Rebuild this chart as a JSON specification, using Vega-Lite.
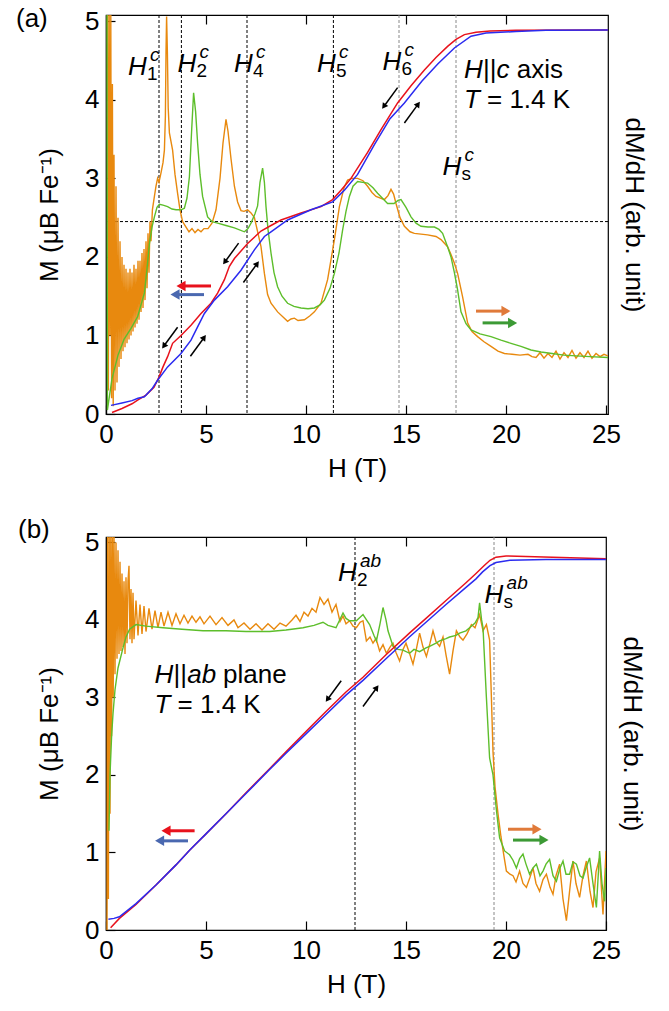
{
"$schema": "https://vega.github.io/schema/vega-lite/v6.json",
"padding": {"left": 15, "top": 5, "right": 5, "bottom": 5},
"spacing": 34,
"config": {
  "font": "Liberation Sans",
  "view": {"stroke": "#000", "strokeWidth": 1.2},
  "axis": {"grid": false, "domainColor": "#000", "domainWidth": 1.2, "tickColor": "#000", "tickWidth": 1.2, "tickSize": -9, "labelPadding": 16, "labelFontSize": 26, "labelColor": "#000", "labelFont": "Liberation Sans", "titleFont": "Liberation Sans", "titleFontSize": 26, "titleFontWeight": "normal", "titleColor": "#000", "labelFlush": false, "labelOverlap": false, "format": "d"},
  "text": {"font": "Liberation Sans", "color": "#000"}
},
"datasets": {
  "a_lines": [
    {"s":"Mdn","H":0.3,"M":0.02},{"s":"Mdn","H":0.8,"M":0.07},{"s":"Mdn","H":1.3,"M":0.13},{"s":"Mdn","H":1.6,"M":0.18},{"s":"Mdn","H":2.0,"M":0.24},{"s":"Mdn","H":2.4,"M":0.34},{"s":"Mdn","H":2.65,"M":0.47},{"s":"Mdn","H":2.85,"M":0.6},{"s":"Mdn","H":3.08,"M":0.73},{"s":"Mdn","H":3.33,"M":0.9},{"s":"Mdn","H":3.75,"M":1.0},{"s":"Mdn","H":4.25,"M":1.13},{"s":"Mdn","H":4.75,"M":1.28},{"s":"Mdn","H":5.25,"M":1.41},{"s":"Mdn","H":5.58,"M":1.54},{"s":"Mdn","H":5.92,"M":1.71},{"s":"Mdn","H":6.17,"M":1.88},{"s":"Mdn","H":6.42,"M":1.98},{"s":"Mdn","H":7.08,"M":2.17},{"s":"Mdn","H":7.75,"M":2.33},{"s":"Mdn","H":8.25,"M":2.4},{"s":"Mdn","H":8.75,"M":2.47},{"s":"Mdn","H":9.75,"M":2.56},{"s":"Mdn","H":10.75,"M":2.64},{"s":"Mdn","H":11.33,"M":2.73},{"s":"Mdn","H":11.75,"M":2.85},{"s":"Mdn","H":12.25,"M":3.0},{"s":"Mdn","H":13.08,"M":3.33},{"s":"Mdn","H":13.75,"M":3.62},{"s":"Mdn","H":14.58,"M":3.96},{"s":"Mdn","H":15.25,"M":4.18},{"s":"Mdn","H":15.92,"M":4.38},{"s":"Mdn","H":16.5,"M":4.54},{"s":"Mdn","H":17.08,"M":4.68},{"s":"Mdn","H":17.5,"M":4.77},{"s":"Mdn","H":17.92,"M":4.83},{"s":"Mdn","H":18.5,"M":4.86},{"s":"Mdn","H":19.2,"M":4.875},{"s":"Mdn","H":20.5,"M":4.885},{"s":"Mdn","H":25.1,"M":4.89},
    {"s":"Mup","H":0.25,"M":0.11},{"s":"Mup","H":0.8,"M":0.14},{"s":"Mup","H":1.3,"M":0.17},{"s":"Mup","H":1.6,"M":0.2},{"s":"Mup","H":1.92,"M":0.22},{"s":"Mup","H":2.3,"M":0.32},{"s":"Mup","H":2.58,"M":0.43},{"s":"Mup","H":3.08,"M":0.6},{"s":"Mup","H":3.75,"M":0.77},{"s":"Mup","H":4.25,"M":0.94},{"s":"Mup","H":4.58,"M":1.11},{"s":"Mup","H":4.92,"M":1.28},{"s":"Mup","H":5.42,"M":1.45},{"s":"Mup","H":6.08,"M":1.62},{"s":"Mup","H":6.75,"M":1.83},{"s":"Mup","H":7.42,"M":2.09},{"s":"Mup","H":7.92,"M":2.26},{"s":"Mup","H":8.25,"M":2.32},{"s":"Mup","H":9.08,"M":2.47},{"s":"Mup","H":10.25,"M":2.6},{"s":"Mup","H":11.33,"M":2.7},{"s":"Mup","H":11.92,"M":2.85},{"s":"Mup","H":12.58,"M":3.05},{"s":"Mup","H":13.42,"M":3.43},{"s":"Mup","H":14.2,"M":3.76},{"s":"Mup","H":14.92,"M":3.96},{"s":"Mup","H":15.8,"M":4.24},{"s":"Mup","H":16.6,"M":4.46},{"s":"Mup","H":17.42,"M":4.66},{"s":"Mup","H":18.25,"M":4.81},{"s":"Mup","H":19.0,"M":4.85},{"s":"Mup","H":20.5,"M":4.87},{"s":"Mup","H":22,"M":4.885},{"s":"Mup","H":25.1,"M":4.89},
    {"s":"dM1","H":0.08,"M":5.1},{"s":"dM1","H":0.12,"M":0.3},{"s":"dM1","H":0.16,"M":5.1},{"s":"dM1","H":0.2,"M":1.0},{"s":"dM1","H":0.24,"M":5.1},{"s":"dM1","H":0.28,"M":0.2},{"s":"dM1","H":0.32,"M":4.2},{"s":"dM1","H":0.36,"M":0.1},{"s":"dM1","H":0.4,"M":3.3},{"s":"dM1","H":0.45,"M":0.3},{"s":"dM1","H":0.5,"M":2.9},{"s":"dM1","H":0.55,"M":0.4},{"s":"dM1","H":0.6,"M":2.5},{"s":"dM1","H":0.65,"M":0.6},{"s":"dM1","H":0.7,"M":2.2},{"s":"dM1","H":0.75,"M":0.7},{"s":"dM1","H":0.8,"M":2.0},{"s":"dM1","H":0.85,"M":0.8},{"s":"dM1","H":0.9,"M":1.9},{"s":"dM1","H":0.95,"M":0.85},{"s":"dM1","H":1.0,"M":1.85},{"s":"dM1","H":1.05,"M":0.9},{"s":"dM1","H":1.1,"M":1.8},{"s":"dM1","H":1.15,"M":0.95},{"s":"dM1","H":1.2,"M":1.85},{"s":"dM1","H":1.25,"M":1.0},{"s":"dM1","H":1.3,"M":1.8},{"s":"dM1","H":1.35,"M":1.05},{"s":"dM1","H":1.4,"M":1.9},{"s":"dM1","H":1.45,"M":1.1},{"s":"dM1","H":1.5,"M":1.85},{"s":"dM1","H":1.55,"M":1.15},{"s":"dM1","H":1.6,"M":1.95},{"s":"dM1","H":1.65,"M":1.2},{"s":"dM1","H":1.7,"M":1.95},{"s":"dM1","H":1.75,"M":1.3},{"s":"dM1","H":1.8,"M":2.05},{"s":"dM1","H":1.85,"M":1.35},{"s":"dM1","H":1.9,"M":2.1},{"s":"dM1","H":1.95,"M":1.45},{"s":"dM1","H":2.0,"M":2.2},{"s":"dM1","H":2.05,"M":1.6},{"s":"dM1","H":2.1,"M":2.3},{"s":"dM1","H":2.15,"M":1.8},{"s":"dM1","H":2.2,"M":2.45},{"s":"dM1","H":2.25,"M":2.2},{"s":"dM1","H":2.32,"M":2.6},{"s":"dM1","H":2.42,"M":2.77},{"s":"dM1","H":2.5,"M":2.9},{"s":"dM1","H":2.58,"M":3.0},{"s":"dM1","H":2.65,"M":2.95},{"s":"dM1","H":2.75,"M":3.07},{"s":"dM1","H":2.85,"M":3.2},{"s":"dM1","H":2.92,"M":3.36},{"s":"dM1","H":2.97,"M":3.8},{"s":"dM1","H":3.0,"M":4.6},{"s":"dM1","H":3.03,"M":5.06},{"s":"dM1","H":3.07,"M":4.6},{"s":"dM1","H":3.11,"M":3.9},{"s":"dM1","H":3.17,"M":3.58},{"s":"dM1","H":3.33,"M":3.36},{"s":"dM1","H":3.45,"M":3.05},{"s":"dM1","H":3.58,"M":2.81},{"s":"dM1","H":3.7,"M":2.6},{"s":"dM1","H":3.83,"M":2.45},{"s":"dM1","H":4.0,"M":2.38},{"s":"dM1","H":4.15,"M":2.32},{"s":"dM1","H":4.3,"M":2.36},{"s":"dM1","H":4.45,"M":2.31},{"s":"dM1","H":4.6,"M":2.35},{"s":"dM1","H":4.75,"M":2.32},{"s":"dM1","H":4.9,"M":2.36},{"s":"dM1","H":5.1,"M":2.36},{"s":"dM1","H":5.3,"M":2.43},{"s":"dM1","H":5.5,"M":2.6},{"s":"dM1","H":5.7,"M":3.0},{"s":"dM1","H":5.85,"M":3.45},{"s":"dM1","H":6.0,"M":3.75},{"s":"dM1","H":6.1,"M":3.6},{"s":"dM1","H":6.25,"M":3.25},{"s":"dM1","H":6.42,"M":2.9},{"s":"dM1","H":6.58,"M":2.7},{"s":"dM1","H":6.75,"M":2.59},{"s":"dM1","H":6.9,"M":2.58},{"s":"dM1","H":7.08,"M":2.6},{"s":"dM1","H":7.25,"M":2.56},{"s":"dM1","H":7.42,"M":2.5},{"s":"dM1","H":7.6,"M":2.3},{"s":"dM1","H":7.75,"M":2.13},{"s":"dM1","H":7.92,"M":1.79},{"s":"dM1","H":8.08,"M":1.52},{"s":"dM1","H":8.25,"M":1.41},{"s":"dM1","H":8.58,"M":1.3},{"s":"dM1","H":9.08,"M":1.18},{"s":"dM1","H":9.25,"M":1.21},{"s":"dM1","H":9.42,"M":1.22},{"s":"dM1","H":9.6,"M":1.19},{"s":"dM1","H":9.92,"M":1.2},{"s":"dM1","H":10.2,"M":1.25},{"s":"dM1","H":10.42,"M":1.3},{"s":"dM1","H":10.75,"M":1.41},{"s":"dM1","H":11.08,"M":1.71},{"s":"dM1","H":11.42,"M":2.22},{"s":"dM1","H":11.67,"M":2.64},{"s":"dM1","H":11.9,"M":2.88},{"s":"dM1","H":12.08,"M":2.98},{"s":"dM1","H":12.3,"M":3.0},{"s":"dM1","H":12.58,"M":3.0},{"s":"dM1","H":12.85,"M":2.97},{"s":"dM1","H":13.08,"M":2.9},{"s":"dM1","H":13.3,"M":2.82},{"s":"dM1","H":13.5,"M":2.77},{"s":"dM1","H":13.92,"M":2.73},{"s":"dM1","H":14.1,"M":2.78},{"s":"dM1","H":14.25,"M":2.86},{"s":"dM1","H":14.38,"M":2.8},{"s":"dM1","H":14.5,"M":2.68},{"s":"dM1","H":14.7,"M":2.5},{"s":"dM1","H":14.92,"M":2.39},{"s":"dM1","H":15.2,"M":2.32},{"s":"dM1","H":15.42,"M":2.3},{"s":"dM1","H":16.08,"M":2.28},{"s":"dM1","H":16.5,"M":2.26},{"s":"dM1","H":16.75,"M":2.22},{"s":"dM1","H":17.08,"M":2.13},{"s":"dM1","H":17.25,"M":2.03},{"s":"dM1","H":17.42,"M":1.92},{"s":"dM1","H":17.58,"M":1.79},{"s":"dM1","H":17.83,"M":1.49},{"s":"dM1","H":18.08,"M":1.16},{"s":"dM1","H":18.3,"M":1.05},{"s":"dM1","H":18.58,"M":0.985},{"s":"dM1","H":18.9,"M":0.92},{"s":"dM1","H":19.25,"M":0.86},{"s":"dM1","H":19.6,"M":0.8},{"s":"dM1","H":19.92,"M":0.77},{"s":"dM1","H":20.3,"M":0.76},{"s":"dM1","H":20.7,"M":0.75},{"s":"dM1","H":21.1,"M":0.76},{"s":"dM1","H":21.3,"M":0.73},{"s":"dM1","H":21.5,"M":0.72},{"s":"dM1","H":21.7,"M":0.78},{"s":"dM1","H":21.9,"M":0.71},{"s":"dM1","H":22.1,"M":0.77},{"s":"dM1","H":22.3,"M":0.72},{"s":"dM1","H":22.5,"M":0.8},{"s":"dM1","H":22.7,"M":0.7},{"s":"dM1","H":22.9,"M":0.78},{"s":"dM1","H":23.1,"M":0.72},{"s":"dM1","H":23.3,"M":0.81},{"s":"dM1","H":23.5,"M":0.71},{"s":"dM1","H":23.7,"M":0.78},{"s":"dM1","H":23.9,"M":0.72},{"s":"dM1","H":24.1,"M":0.8},{"s":"dM1","H":24.3,"M":0.71},{"s":"dM1","H":24.5,"M":0.77},{"s":"dM1","H":24.7,"M":0.73},{"s":"dM1","H":24.9,"M":0.76},{"s":"dM1","H":25.1,"M":0.74},
    {"s":"dM2","H":0.05,"M":5.1},{"s":"dM2","H":0.07,"M":0.05},{"s":"dM2","H":0.3,"M":0.45},{"s":"dM2","H":0.6,"M":0.75},{"s":"dM2","H":0.9,"M":0.95},{"s":"dM2","H":1.25,"M":1.09},{"s":"dM2","H":1.58,"M":1.24},{"s":"dM2","H":1.92,"M":1.54},{"s":"dM2","H":2.05,"M":1.85},{"s":"dM2","H":2.17,"M":2.17},{"s":"dM2","H":2.3,"M":2.38},{"s":"dM2","H":2.42,"M":2.51},{"s":"dM2","H":2.55,"M":2.63},{"s":"dM2","H":2.67,"M":2.67},{"s":"dM2","H":2.85,"M":2.66},{"s":"dM2","H":3.08,"M":2.64},{"s":"dM2","H":3.3,"M":2.61},{"s":"dM2","H":3.5,"M":2.6},{"s":"dM2","H":3.75,"M":2.6},{"s":"dM2","H":3.92,"M":2.62},{"s":"dM2","H":4.05,"M":2.75},{"s":"dM2","H":4.17,"M":3.02},{"s":"dM2","H":4.28,"M":3.6},{"s":"dM2","H":4.38,"M":4.09},{"s":"dM2","H":4.48,"M":3.85},{"s":"dM2","H":4.58,"M":3.45},{"s":"dM2","H":4.7,"M":3.05},{"s":"dM2","H":4.83,"M":2.77},{"s":"dM2","H":5.08,"M":2.51},{"s":"dM2","H":5.3,"M":2.45},{"s":"dM2","H":5.58,"M":2.43},{"s":"dM2","H":6.0,"M":2.4},{"s":"dM2","H":6.42,"M":2.37},{"s":"dM2","H":6.92,"M":2.32},{"s":"dM2","H":7.1,"M":2.36},{"s":"dM2","H":7.25,"M":2.43},{"s":"dM2","H":7.45,"M":2.55},{"s":"dM2","H":7.58,"M":2.65},{"s":"dM2","H":7.7,"M":2.95},{"s":"dM2","H":7.83,"M":3.13},{"s":"dM2","H":7.92,"M":2.95},{"s":"dM2","H":8.0,"M":2.64},{"s":"dM2","H":8.1,"M":2.35},{"s":"dM2","H":8.25,"M":2.05},{"s":"dM2","H":8.4,"M":1.8},{"s":"dM2","H":8.58,"M":1.62},{"s":"dM2","H":8.8,"M":1.5},{"s":"dM2","H":9.08,"M":1.41},{"s":"dM2","H":9.4,"M":1.37},{"s":"dM2","H":9.75,"M":1.35},{"s":"dM2","H":10.1,"M":1.34},{"s":"dM2","H":10.42,"M":1.35},{"s":"dM2","H":10.7,"M":1.39},{"s":"dM2","H":10.92,"M":1.45},{"s":"dM2","H":11.2,"M":1.6},{"s":"dM2","H":11.42,"M":1.79},{"s":"dM2","H":11.65,"M":2.05},{"s":"dM2","H":11.83,"M":2.34},{"s":"dM2","H":12.0,"M":2.58},{"s":"dM2","H":12.17,"M":2.77},{"s":"dM2","H":12.35,"M":2.9},{"s":"dM2","H":12.58,"M":2.96},{"s":"dM2","H":13.08,"M":2.94},{"s":"dM2","H":13.35,"M":2.88},{"s":"dM2","H":13.58,"M":2.81},{"s":"dM2","H":13.85,"M":2.74},{"s":"dM2","H":14.08,"M":2.68},{"s":"dM2","H":14.4,"M":2.68},{"s":"dM2","H":14.6,"M":2.72},{"s":"dM2","H":14.75,"M":2.73},{"s":"dM2","H":15.0,"M":2.63},{"s":"dM2","H":15.25,"M":2.51},{"s":"dM2","H":15.5,"M":2.43},{"s":"dM2","H":15.75,"M":2.39},{"s":"dM2","H":16.1,"M":2.38},{"s":"dM2","H":16.42,"M":2.38},{"s":"dM2","H":16.65,"M":2.35},{"s":"dM2","H":16.83,"M":2.3},{"s":"dM2","H":17.05,"M":2.15},{"s":"dM2","H":17.25,"M":2.0},{"s":"dM2","H":17.42,"M":1.8},{"s":"dM2","H":17.58,"M":1.58},{"s":"dM2","H":17.75,"M":1.3},{"s":"dM2","H":18.0,"M":1.15},{"s":"dM2","H":18.25,"M":1.07},{"s":"dM2","H":18.7,"M":1.02},{"s":"dM2","H":19.25,"M":0.985},{"s":"dM2","H":19.75,"M":0.94},{"s":"dM2","H":20.25,"M":0.9},{"s":"dM2","H":20.75,"M":0.86},{"s":"dM2","H":21.25,"M":0.815},{"s":"dM2","H":21.75,"M":0.79},{"s":"dM2","H":22.3,"M":0.77},{"s":"dM2","H":22.9,"M":0.75},{"s":"dM2","H":23.5,"M":0.74},{"s":"dM2","H":24.2,"M":0.73},{"s":"dM2","H":25.1,"M":0.72}
  ],
  "b_lines": [
    {"s":"Mdn","H":0.23,"M":0.03},{"s":"Mdn","H":0.67,"M":0.15},{"s":"Mdn","H":1.5,"M":0.33},{"s":"Mdn","H":2.5,"M":0.58},{"s":"Mdn","H":3.5,"M":0.84},{"s":"Mdn","H":4.18,"M":1.03},{"s":"Mdn","H":5.0,"M":1.24},{"s":"Mdn","H":6.0,"M":1.5},{"s":"Mdn","H":7.0,"M":1.77},{"s":"Mdn","H":8.18,"M":2.08},{"s":"Mdn","H":9.0,"M":2.3},{"s":"Mdn","H":10.0,"M":2.56},{"s":"Mdn","H":11.0,"M":2.82},{"s":"Mdn","H":12.0,"M":3.07},{"s":"Mdn","H":12.85,"M":3.26},{"s":"Mdn","H":14.0,"M":3.55},{"s":"Mdn","H":15.17,"M":3.83},{"s":"Mdn","H":16.0,"M":4.02},{"s":"Mdn","H":17.0,"M":4.25},{"s":"Mdn","H":18.0,"M":4.48},{"s":"Mdn","H":18.5,"M":4.6},{"s":"Mdn","H":18.9,"M":4.7},{"s":"Mdn","H":19.2,"M":4.77},{"s":"Mdn","H":19.5,"M":4.81},{"s":"Mdn","H":20.0,"M":4.825},{"s":"Mdn","H":21.0,"M":4.82},{"s":"Mdn","H":25.0,"M":4.79},
    {"s":"Mup","H":0.12,"M":0.14},{"s":"Mup","H":0.4,"M":0.15},{"s":"Mup","H":0.67,"M":0.17},{"s":"Mup","H":1.5,"M":0.34},{"s":"Mup","H":2.5,"M":0.58},{"s":"Mup","H":3.5,"M":0.84},{"s":"Mup","H":4.18,"M":1.03},{"s":"Mup","H":5.0,"M":1.24},{"s":"Mup","H":6.0,"M":1.5},{"s":"Mup","H":7.0,"M":1.76},{"s":"Mup","H":8.18,"M":2.07},{"s":"Mup","H":9.0,"M":2.28},{"s":"Mup","H":10.0,"M":2.53},{"s":"Mup","H":11.0,"M":2.78},{"s":"Mup","H":12.0,"M":3.03},{"s":"Mup","H":12.85,"M":3.22},{"s":"Mup","H":14.0,"M":3.5},{"s":"Mup","H":15.17,"M":3.78},{"s":"Mup","H":16.0,"M":3.97},{"s":"Mup","H":17.0,"M":4.2},{"s":"Mup","H":18.0,"M":4.42},{"s":"Mup","H":18.5,"M":4.53},{"s":"Mup","H":18.83,"M":4.62},{"s":"Mup","H":19.2,"M":4.7},{"s":"Mup","H":19.5,"M":4.74},{"s":"Mup","H":20.2,"M":4.77},{"s":"Mup","H":22.0,"M":4.78},{"s":"Mup","H":25.0,"M":4.78},
    {"s":"dM1","H":0.05,"M":0.0},{"s":"dM1","H":0.08,"M":5.1},{"s":"dM1","H":0.12,"M":0.4},{"s":"dM1","H":0.16,"M":5.1},{"s":"dM1","H":0.2,"M":1.5},{"s":"dM1","H":0.24,"M":5.1},{"s":"dM1","H":0.28,"M":2.5},{"s":"dM1","H":0.32,"M":5.1},{"s":"dM1","H":0.36,"M":3.0},{"s":"dM1","H":0.4,"M":5.1},{"s":"dM1","H":0.45,"M":3.3},{"s":"dM1","H":0.5,"M":5.0},{"s":"dM1","H":0.55,"M":3.5},{"s":"dM1","H":0.6,"M":4.9},{"s":"dM1","H":0.65,"M":3.56},{"s":"dM1","H":0.7,"M":4.75},{"s":"dM1","H":0.75,"M":3.6},{"s":"dM1","H":0.8,"M":4.6},{"s":"dM1","H":0.85,"M":3.65},{"s":"dM1","H":0.9,"M":4.5},{"s":"dM1","H":0.95,"M":3.56},{"s":"dM1","H":1.0,"M":4.55},{"s":"dM1","H":1.05,"M":3.7},{"s":"dM1","H":1.1,"M":4.5},{"s":"dM1","H":1.15,"M":4.7},{"s":"dM1","H":1.2,"M":3.75},{"s":"dM1","H":1.25,"M":4.4},{"s":"dM1","H":1.3,"M":3.7},{"s":"dM1","H":1.35,"M":4.35},{"s":"dM1","H":1.4,"M":3.75},{"s":"dM1","H":1.5,"M":4.25},{"s":"dM1","H":1.6,"M":3.8},{"s":"dM1","H":1.7,"M":4.2},{"s":"dM1","H":1.8,"M":3.82},{"s":"dM1","H":1.9,"M":4.18},{"s":"dM1","H":2.0,"M":3.85},{"s":"dM1","H":2.15,"M":4.15},{"s":"dM1","H":2.3,"M":3.88},{"s":"dM1","H":2.45,"M":4.12},{"s":"dM1","H":2.6,"M":3.9},{"s":"dM1","H":2.75,"M":4.1},{"s":"dM1","H":2.9,"M":3.92},{"s":"dM1","H":3.1,"M":4.1},{"s":"dM1","H":3.3,"M":3.93},{"s":"dM1","H":3.5,"M":4.08},{"s":"dM1","H":3.7,"M":3.95},{"s":"dM1","H":3.9,"M":4.06},{"s":"dM1","H":4.1,"M":3.96},{"s":"dM1","H":4.3,"M":4.05},{"s":"dM1","H":4.5,"M":3.97},{"s":"dM1","H":4.7,"M":4.04},{"s":"dM1","H":4.9,"M":3.95},{"s":"dM1","H":5.2,"M":4.05},{"s":"dM1","H":5.5,"M":3.94},{"s":"dM1","H":5.8,"M":4.03},{"s":"dM1","H":6.1,"M":3.93},{"s":"dM1","H":6.4,"M":4.0},{"s":"dM1","H":6.6,"M":3.9},{"s":"dM1","H":6.9,"M":3.96},{"s":"dM1","H":7.2,"M":3.88},{"s":"dM1","H":7.5,"M":3.95},{"s":"dM1","H":7.8,"M":3.87},{"s":"dM1","H":8.1,"M":3.95},{"s":"dM1","H":8.4,"M":3.88},{"s":"dM1","H":8.7,"M":3.96},{"s":"dM1","H":9.0,"M":3.92},{"s":"dM1","H":9.3,"M":4.0},{"s":"dM1","H":9.5,"M":4.06},{"s":"dM1","H":9.7,"M":3.98},{"s":"dM1","H":9.9,"M":4.1},{"s":"dM1","H":10.1,"M":4.05},{"s":"dM1","H":10.3,"M":4.15},{"s":"dM1","H":10.5,"M":4.1},{"s":"dM1","H":10.7,"M":4.29},{"s":"dM1","H":10.9,"M":4.2},{"s":"dM1","H":11.1,"M":4.27},{"s":"dM1","H":11.3,"M":4.1},{"s":"dM1","H":11.5,"M":4.2},{"s":"dM1","H":11.7,"M":3.98},{"s":"dM1","H":11.85,"M":4.05},{"s":"dM1","H":12.0,"M":3.95},{"s":"dM1","H":12.18,"M":3.99},{"s":"dM1","H":12.35,"M":3.92},{"s":"dM1","H":12.52,"M":3.9},{"s":"dM1","H":12.7,"M":3.97},{"s":"dM1","H":12.85,"M":3.99},{"s":"dM1","H":13.02,"M":3.73},{"s":"dM1","H":13.2,"M":3.78},{"s":"dM1","H":13.35,"M":3.7},{"s":"dM1","H":13.5,"M":3.76},{"s":"dM1","H":13.68,"M":3.6},{"s":"dM1","H":13.85,"M":3.68},{"s":"dM1","H":14.02,"M":3.57},{"s":"dM1","H":14.2,"M":3.65},{"s":"dM1","H":14.35,"M":3.7},{"s":"dM1","H":14.5,"M":3.58},{"s":"dM1","H":14.68,"M":3.47},{"s":"dM1","H":14.85,"M":3.62},{"s":"dM1","H":15.0,"M":3.7},{"s":"dM1","H":15.2,"M":3.55},{"s":"dM1","H":15.35,"M":3.43},{"s":"dM1","H":15.5,"M":3.6},{"s":"dM1","H":15.68,"M":3.83},{"s":"dM1","H":15.85,"M":3.65},{"s":"dM1","H":16.02,"M":3.53},{"s":"dM1","H":16.2,"M":3.7},{"s":"dM1","H":16.35,"M":3.86},{"s":"dM1","H":16.5,"M":3.72},{"s":"dM1","H":16.68,"M":3.66},{"s":"dM1","H":16.85,"M":3.78},{"s":"dM1","H":17.0,"M":3.55},{"s":"dM1","H":17.18,"M":3.3},{"s":"dM1","H":17.35,"M":3.6},{"s":"dM1","H":17.52,"M":3.86},{"s":"dM1","H":17.7,"M":3.78},{"s":"dM1","H":17.85,"M":3.74},{"s":"dM1","H":18.05,"M":3.82},{"s":"dM1","H":18.27,"M":3.94},{"s":"dM1","H":18.45,"M":3.9},{"s":"dM1","H":18.68,"M":4.07},{"s":"dM1","H":18.85,"M":3.86},{"s":"dM1","H":19.02,"M":3.94},{"s":"dM1","H":19.18,"M":3.74},{"s":"dM1","H":19.27,"M":3.0},{"s":"dM1","H":19.35,"M":2.3},{"s":"dM1","H":19.45,"M":1.85},{"s":"dM1","H":19.6,"M":1.5},{"s":"dM1","H":19.75,"M":1.2},{"s":"dM1","H":19.9,"M":0.95},{"s":"dM1","H":20.02,"M":0.76},{"s":"dM1","H":20.2,"M":0.72},{"s":"dM1","H":20.35,"M":0.7},{"s":"dM1","H":20.5,"M":0.62},{"s":"dM1","H":20.68,"M":0.76},{"s":"dM1","H":20.85,"M":0.6},{"s":"dM1","H":21.02,"M":0.55},{"s":"dM1","H":21.2,"M":0.68},{"s":"dM1","H":21.35,"M":0.8},{"s":"dM1","H":21.5,"M":0.6},{"s":"dM1","H":21.68,"M":0.5},{"s":"dM1","H":21.85,"M":0.65},{"s":"dM1","H":22.02,"M":0.72},{"s":"dM1","H":22.2,"M":0.55},{"s":"dM1","H":22.35,"M":0.46},{"s":"dM1","H":22.5,"M":0.7},{"s":"dM1","H":22.68,"M":0.85},{"s":"dM1","H":22.85,"M":0.4},{"s":"dM1","H":23.02,"M":0.12},{"s":"dM1","H":23.2,"M":0.55},{"s":"dM1","H":23.35,"M":0.89},{"s":"dM1","H":23.5,"M":0.6},{"s":"dM1","H":23.68,"M":0.42},{"s":"dM1","H":23.85,"M":0.7},{"s":"dM1","H":24.02,"M":0.89},{"s":"dM1","H":24.2,"M":0.5},{"s":"dM1","H":24.35,"M":0.29},{"s":"dM1","H":24.5,"M":0.75},{"s":"dM1","H":24.68,"M":0.93},{"s":"dM1","H":24.85,"M":0.2},{"s":"dM1","H":25.0,"M":1.02},
    {"s":"dM2","H":0.15,"M":1.28},{"s":"dM2","H":0.2,"M":2.0},{"s":"dM2","H":0.28,"M":2.5},{"s":"dM2","H":0.35,"M":2.79},{"s":"dM2","H":0.45,"M":3.1},{"s":"dM2","H":0.6,"M":3.38},{"s":"dM2","H":0.85,"M":3.64},{"s":"dM2","H":1.0,"M":3.78},{"s":"dM2","H":1.18,"M":3.88},{"s":"dM2","H":1.5,"M":3.94},{"s":"dM2","H":2.0,"M":3.92},{"s":"dM2","H":2.85,"M":3.9},{"s":"dM2","H":3.8,"M":3.88},{"s":"dM2","H":4.85,"M":3.86},{"s":"dM2","H":6.0,"M":3.86},{"s":"dM2","H":7.0,"M":3.85},{"s":"dM2","H":8.18,"M":3.85},{"s":"dM2","H":9.0,"M":3.87},{"s":"dM2","H":9.85,"M":3.9},{"s":"dM2","H":10.4,"M":3.93},{"s":"dM2","H":10.85,"M":3.97},{"s":"dM2","H":11.1,"M":3.93},{"s":"dM2","H":11.5,"M":3.9},{"s":"dM2","H":11.85,"M":4.09},{"s":"dM2","H":12.0,"M":4.02},{"s":"dM2","H":12.18,"M":3.99},{"s":"dM2","H":12.52,"M":3.99},{"s":"dM2","H":12.85,"M":4.07},{"s":"dM2","H":13.18,"M":3.94},{"s":"dM2","H":13.4,"M":3.8},{"s":"dM2","H":13.52,"M":3.73},{"s":"dM2","H":13.7,"M":3.95},{"s":"dM2","H":13.85,"M":4.16},{"s":"dM2","H":14.0,"M":4.0},{"s":"dM2","H":14.1,"M":3.86},{"s":"dM2","H":14.35,"M":3.66},{"s":"dM2","H":14.6,"M":3.62},{"s":"dM2","H":14.85,"M":3.61},{"s":"dM2","H":15.18,"M":3.57},{"s":"dM2","H":15.4,"M":3.62},{"s":"dM2","H":15.68,"M":3.59},{"s":"dM2","H":16.0,"M":3.64},{"s":"dM2","H":16.18,"M":3.66},{"s":"dM2","H":16.5,"M":3.7},{"s":"dM2","H":16.68,"M":3.73},{"s":"dM2","H":17.0,"M":3.76},{"s":"dM2","H":17.18,"M":3.78},{"s":"dM2","H":17.5,"M":3.8},{"s":"dM2","H":17.68,"M":3.83},{"s":"dM2","H":18.0,"M":3.86},{"s":"dM2","H":18.18,"M":3.9},{"s":"dM2","H":18.45,"M":3.96},{"s":"dM2","H":18.6,"M":4.03},{"s":"dM2","H":18.68,"M":4.22},{"s":"dM2","H":18.78,"M":4.0},{"s":"dM2","H":18.85,"M":3.9},{"s":"dM2","H":19.02,"M":3.0},{"s":"dM2","H":19.18,"M":2.22},{"s":"dM2","H":19.35,"M":2.0},{"s":"dM2","H":19.52,"M":1.55},{"s":"dM2","H":19.68,"M":1.19},{"s":"dM2","H":19.93,"M":1.02},{"s":"dM2","H":20.18,"M":0.97},{"s":"dM2","H":20.35,"M":0.9},{"s":"dM2","H":20.52,"M":0.8},{"s":"dM2","H":20.68,"M":0.92},{"s":"dM2","H":20.85,"M":0.98},{"s":"dM2","H":21.0,"M":0.85},{"s":"dM2","H":21.18,"M":0.72},{"s":"dM2","H":21.35,"M":0.8},{"s":"dM2","H":21.52,"M":0.85},{"s":"dM2","H":21.7,"M":0.7},{"s":"dM2","H":21.85,"M":0.76},{"s":"dM2","H":22.0,"M":0.85},{"s":"dM2","H":22.18,"M":0.91},{"s":"dM2","H":22.35,"M":0.7},{"s":"dM2","H":22.52,"M":0.63},{"s":"dM2","H":22.7,"M":0.8},{"s":"dM2","H":22.85,"M":0.89},{"s":"dM2","H":23.0,"M":0.72},{"s":"dM2","H":23.18,"M":0.72},{"s":"dM2","H":23.35,"M":0.88},{"s":"dM2","H":23.52,"M":0.85},{"s":"dM2","H":23.7,"M":0.7},{"s":"dM2","H":23.85,"M":0.67},{"s":"dM2","H":24.0,"M":0.8},{"s":"dM2","H":24.18,"M":0.93},{"s":"dM2","H":24.35,"M":0.6},{"s":"dM2","H":24.52,"M":0.29},{"s":"dM2","H":24.68,"M":1.02},{"s":"dM2","H":24.8,"M":0.6},{"s":"dM2","H":24.93,"M":0.37},{"s":"dM2","H":25.0,"M":0.8}
  ],
  "a_text": [
    {"H":-4.5,"M":4.93,"t":"(a)","role":"rm"},
    {"H":1.1,"M":4.32,"t":"H","role":"it"},{"H":2.05,"M":4.32,"t":"1","role":"sub"},{"H":2.2,"M":4.32,"t":"c","role":"sup"},
    {"H":3.58,"M":4.36,"t":"H","role":"it"},{"H":4.53,"M":4.36,"t":"2","role":"sub"},{"H":4.68,"M":4.36,"t":"c","role":"sup"},
    {"H":6.4,"M":4.36,"t":"H","role":"it"},{"H":7.35,"M":4.36,"t":"4","role":"sub"},{"H":7.5,"M":4.36,"t":"c","role":"sup"},
    {"H":10.55,"M":4.36,"t":"H","role":"it"},{"H":11.5,"M":4.36,"t":"5","role":"sub"},{"H":11.65,"M":4.36,"t":"c","role":"sup"},
    {"H":13.83,"M":4.38,"t":"H","role":"it"},{"H":14.78,"M":4.38,"t":"6","role":"sub"},{"H":14.93,"M":4.38,"t":"c","role":"sup"},
    {"H":16.83,"M":3.04,"t":"H","role":"it"},{"H":17.78,"M":3.04,"t":"s","role":"sub"},{"H":17.93,"M":3.04,"t":"c","role":"sup"},
    {"H":17.9,"M":4.28,"t":"H","role":"it"},{"H":18.85,"M":4.28,"t":"||","role":"rm"},{"H":19.53,"M":4.28,"t":"c","role":"it"},{"H":20.54,"M":4.28,"t":"axis","role":"rm"},
    {"H":17.9,"M":3.89,"t":"T","role":"it"},{"H":19.05,"M":3.89,"t":"= 1.4 K","role":"rm"}
  ],
  "b_text": [
    {"H":-4.4,"M":5.06,"t":"(b)","role":"rm"},
    {"H":11.6,"M":4.5,"t":"H","role":"it"},{"H":12.55,"M":4.5,"t":"2","role":"sub"},{"H":12.7,"M":4.5,"t":"ab","role":"sup"},
    {"H":18.93,"M":4.22,"t":"H","role":"it"},{"H":19.88,"M":4.22,"t":"s","role":"sub"},{"H":20.03,"M":4.22,"t":"ab","role":"sup"},
    {"H":2.43,"M":3.19,"t":"H","role":"it"},{"H":3.38,"M":3.19,"t":"||","role":"rm"},{"H":4.06,"M":3.19,"t":"ab","role":"it"},{"H":5.85,"M":3.19,"t":"plane","role":"rm"},
    {"H":2.43,"M":2.8,"t":"T","role":"it"},{"H":3.58,"M":2.8,"t":"= 1.4 K","role":"rm"}
  ],
  "a_carrows": [
    {"s":"aMdn","H":5.25,"H2":3.75,"M":1.63},{"s":"aMup","H":4.9,"H2":3.45,"M":1.52},{"s":"adM1","H":18.5,"H2":20.0,"M":1.31},{"s":"adM2","H":18.83,"H2":20.33,"M":1.16}
  ],
  "b_carrows": [
    {"s":"aMdn","H":4.43,"H2":3.0,"M":1.28},{"s":"aMup","H":4.1,"H2":2.68,"M":1.15},{"s":"adM1","H":20.1,"H2":21.55,"M":1.3},{"s":"adM2","H":20.35,"H2":21.9,"M":1.16}
  ],
  "a_barrows": [
    {"H":6.63,"M":2.175,"H2":5.97,"M2":1.945},{"H":6.87,"M":1.675,"H2":7.53,"M2":1.905},{"H":3.58,"M":1.105,"H2":2.92,"M2":0.875},{"H":4.22,"M":0.735,"H2":4.88,"M2":0.965},{"H":14.58,"M":4.155,"H2":13.92,"M2":3.925},{"H":14.92,"M":3.705,"H2":15.58,"M2":3.935}
  ],
  "b_barrows": [
    {"H":11.76,"M":3.216,"H2":11.1,"M2":2.984},{"H":12.85,"M":2.884,"H2":13.51,"M2":3.116}
  ]
},
"vconcat": [
{
  "width": 502, "height": 399,
  "layer": [
    {"layer": [
      {"data": {"values": [{"H":2.65},{"H":3.77},{"H":7.05},{"H":11.37}]}, "mark": {"type":"rule","color":"#000","strokeWidth":1,"strokeDash":[3,2]}, "encoding": {"x": {"field":"H","type":"quantitative"}}},
      {"data": {"values": [{"H":14.65},{"H":17.5}]}, "mark": {"type":"rule","color":"#888","strokeWidth":1,"strokeDash":[3,2]}, "encoding": {"x": {"field":"H","type":"quantitative"}}},
      {"data": {"values": [{"M":2.45}]}, "mark": {"type":"rule","color":"#000","strokeWidth":1,"strokeDash":[3,2]}, "encoding": {"y": {"field":"M","type":"quantitative"}}},
      {"data": {"name":"a_lines"}, "transform": [{"filter": {"field":"s","oneOf":["dM1","dM2"]}}], "mark": {"type":"line","strokeWidth":1.4,"clip":true},
       "encoding": {
         "x": {"field":"H","type":"quantitative","scale":{"domain":[0,25.1],"nice":false,"zero":false},"axis":{"title":"H (T)","values":[0,5,10,15,20,25],"titlePadding":8}},
         "y": {"field":"M","type":"quantitative","scale":{"domain":[0,5.08],"nice":false,"zero":false},"axis":{"title":"M (μB Fe⁻¹)","values":[0,1,2,3,4,5],"titlePadding":22}},
         "color": {"field":"s","type":"nominal","legend":null,"scale":{"domain":["Mdn","Mup","dM1","dM2","aMdn","aMup","adM1","adM2"],"range":["#e8121c","#2b2bf0","#e8890e","#5dbe2b","#e8121c","#4a68b0","#e07a3a","#3c9a35"]}}}},
      {"data": {"name":"a_lines"}, "transform": [{"filter": {"field":"s","oneOf":["Mdn","Mup"]}}], "mark": {"type":"line","strokeWidth":1.5,"clip":true},
       "encoding": {"x": {"field":"H","type":"quantitative"},"y": {"field":"M","type":"quantitative"},
         "color": {"field":"s","type":"nominal","legend":null,"scale":{"domain":["Mdn","Mup","dM1","dM2","aMdn","aMup","adM1","adM2"],"range":["#e8121c","#2b2bf0","#e8890e","#5dbe2b","#e8121c","#4a68b0","#e07a3a","#3c9a35"]}}}},
      {"data": {"name":"a_carrows"}, "mark": {"type":"rule","strokeWidth":3},
       "encoding": {"x": {"field":"H","type":"quantitative"},"x2": {"field":"H2"},"y": {"field":"M","type":"quantitative"},
         "color": {"field":"s","type":"nominal","legend":null,"scale":{"domain":["Mdn","Mup","dM1","dM2","aMdn","aMup","adM1","adM2"],"range":["#e8121c","#2b2bf0","#e8890e","#5dbe2b","#e8121c","#4a68b0","#e07a3a","#3c9a35"]}}}},
      {"data": {"name":"a_carrows"}, "transform": [{"filter":"datum.H2 < datum.H"}], "mark": {"type":"point","shape":"triangle-left","filled":true,"opacity":1,"size":110},
       "encoding": {"x": {"field":"H2","type":"quantitative"},"y": {"field":"M","type":"quantitative"},
         "color": {"field":"s","type":"nominal","legend":null,"scale":{"domain":["Mdn","Mup","dM1","dM2","aMdn","aMup","adM1","adM2"],"range":["#e8121c","#2b2bf0","#e8890e","#5dbe2b","#e8121c","#4a68b0","#e07a3a","#3c9a35"]}}}},
      {"data": {"name":"a_carrows"}, "transform": [{"filter":"datum.H2 > datum.H"}], "mark": {"type":"point","shape":"triangle-right","filled":true,"opacity":1,"size":110},
       "encoding": {"x": {"field":"H2","type":"quantitative"},"y": {"field":"M","type":"quantitative"},
         "color": {"field":"s","type":"nominal","legend":null,"scale":{"domain":["Mdn","Mup","dM1","dM2","aMdn","aMup","adM1","adM2"],"range":["#e8121c","#2b2bf0","#e8890e","#5dbe2b","#e8121c","#4a68b0","#e07a3a","#3c9a35"]}}}},
      {"data": {"name":"a_barrows"}, "mark": {"type":"rule","color":"#000","strokeWidth":1.5},
       "encoding": {"x": {"field":"H","type":"quantitative"},"y": {"field":"M","type":"quantitative"},"x2": {"field":"H2"},"y2": {"field":"M2"}}},
      {"data": {"name":"a_barrows"}, "transform": [{"filter":"datum.H2 < datum.H"}], "mark": {"type":"point","shape":"triangle","filled":true,"opacity":1,"color":"#000","size":45,"angle":216},
       "encoding": {"x": {"field":"H2","type":"quantitative"},"y": {"field":"M2","type":"quantitative"}}},
      {"data": {"name":"a_barrows"}, "transform": [{"filter":"datum.H2 > datum.H"}], "mark": {"type":"point","shape":"triangle","filled":true,"opacity":1,"color":"#000","size":45,"angle":36},
       "encoding": {"x": {"field":"H2","type":"quantitative"},"y": {"field":"M2","type":"quantitative"}}},
      {"data": {"name":"a_text"}, "transform": [{"filter": {"field":"role","equal":"it"}}], "mark": {"type":"text","align":"left","baseline":"alphabetic","fontSize":26,"fontStyle":"italic"},
       "encoding": {"x": {"field":"H","type":"quantitative"},"y": {"field":"M","type":"quantitative"},"text": {"field":"t"}}},
      {"data": {"name":"a_text"}, "transform": [{"filter": {"field":"role","equal":"rm"}}], "mark": {"type":"text","align":"left","baseline":"alphabetic","fontSize":26},
       "encoding": {"x": {"field":"H","type":"quantitative"},"y": {"field":"M","type":"quantitative"},"text": {"field":"t"}}},
      {"data": {"name":"a_text"}, "transform": [{"filter": {"field":"role","equal":"sub"}}], "mark": {"type":"text","align":"left","baseline":"alphabetic","fontSize":19,"dy":5},
       "encoding": {"x": {"field":"H","type":"quantitative"},"y": {"field":"M","type":"quantitative"},"text": {"field":"t"}}},
      {"data": {"name":"a_text"}, "transform": [{"filter": {"field":"role","equal":"sup"}}], "mark": {"type":"text","align":"left","baseline":"alphabetic","fontSize":19,"fontStyle":"italic","dy":-14},
       "encoding": {"x": {"field":"H","type":"quantitative"},"y": {"field":"M","type":"quantitative"},"text": {"field":"t"}}}
    ]},
    {"data": {"values": [{"H":0,"M":0}]}, "mark": {"type":"point","opacity":0},
     "encoding": {
       "x": {"field":"H","type":"quantitative","axis":{"orient":"top","labels":false,"title":null,"domain":false,"values":[5,10,15,20]}},
       "y": {"field":"M","type":"quantitative","axis":{"orient":"right","labels":false,"ticks":false,"domain":false,"title":"dM/dH (arb. unit)","titlePadding":12}}}}
  ],
  "resolve": {"axis": {"x":"independent","y":"independent"}}
},
{
  "width": 500, "height": 393,
  "layer": [
    {"layer": [
      {"data": {"values": [{"H":12.45}]}, "mark": {"type":"rule","color":"#000","strokeWidth":1,"strokeDash":[3,2]}, "encoding": {"x": {"field":"H","type":"quantitative"}}},
      {"data": {"values": [{"H":19.4}]}, "mark": {"type":"rule","color":"#888","strokeWidth":1,"strokeDash":[3,2]}, "encoding": {"x": {"field":"H","type":"quantitative"}}},
      {"data": {"name":"b_lines"}, "transform": [{"filter": {"field":"s","oneOf":["dM1","dM2"]}}], "mark": {"type":"line","strokeWidth":1.4,"clip":true},
       "encoding": {
         "x": {"field":"H","type":"quantitative","scale":{"domain":[0,25],"nice":false,"zero":false},"axis":{"title":"H (T)","values":[0,5,10,15,20,25],"titlePadding":8}},
         "y": {"field":"M","type":"quantitative","scale":{"domain":[0,5.07],"nice":false,"zero":false},"axis":{"title":"M (μB Fe⁻¹)","values":[0,1,2,3,4,5],"titlePadding":22}},
         "color": {"field":"s","type":"nominal","legend":null,"scale":{"domain":["Mdn","Mup","dM1","dM2","aMdn","aMup","adM1","adM2"],"range":["#e8121c","#2b2bf0","#e8890e","#5dbe2b","#e8121c","#4a68b0","#e07a3a","#3c9a35"]}}}},
      {"data": {"name":"b_lines"}, "transform": [{"filter": {"field":"s","oneOf":["Mdn","Mup"]}}], "mark": {"type":"line","strokeWidth":1.5,"clip":true},
       "encoding": {"x": {"field":"H","type":"quantitative"},"y": {"field":"M","type":"quantitative"},
         "color": {"field":"s","type":"nominal","legend":null,"scale":{"domain":["Mdn","Mup","dM1","dM2","aMdn","aMup","adM1","adM2"],"range":["#e8121c","#2b2bf0","#e8890e","#5dbe2b","#e8121c","#4a68b0","#e07a3a","#3c9a35"]}}}},
      {"data": {"name":"b_carrows"}, "mark": {"type":"rule","strokeWidth":3},
       "encoding": {"x": {"field":"H","type":"quantitative"},"x2": {"field":"H2"},"y": {"field":"M","type":"quantitative"},
         "color": {"field":"s","type":"nominal","legend":null,"scale":{"domain":["Mdn","Mup","dM1","dM2","aMdn","aMup","adM1","adM2"],"range":["#e8121c","#2b2bf0","#e8890e","#5dbe2b","#e8121c","#4a68b0","#e07a3a","#3c9a35"]}}}},
      {"data": {"name":"b_carrows"}, "transform": [{"filter":"datum.H2 < datum.H"}], "mark": {"type":"point","shape":"triangle-left","filled":true,"opacity":1,"size":110},
       "encoding": {"x": {"field":"H2","type":"quantitative"},"y": {"field":"M","type":"quantitative"},
         "color": {"field":"s","type":"nominal","legend":null,"scale":{"domain":["Mdn","Mup","dM1","dM2","aMdn","aMup","adM1","adM2"],"range":["#e8121c","#2b2bf0","#e8890e","#5dbe2b","#e8121c","#4a68b0","#e07a3a","#3c9a35"]}}}},
      {"data": {"name":"b_carrows"}, "transform": [{"filter":"datum.H2 > datum.H"}], "mark": {"type":"point","shape":"triangle-right","filled":true,"opacity":1,"size":110},
       "encoding": {"x": {"field":"H2","type":"quantitative"},"y": {"field":"M","type":"quantitative"},
         "color": {"field":"s","type":"nominal","legend":null,"scale":{"domain":["Mdn","Mup","dM1","dM2","aMdn","aMup","adM1","adM2"],"range":["#e8121c","#2b2bf0","#e8890e","#5dbe2b","#e8121c","#4a68b0","#e07a3a","#3c9a35"]}}}},
      {"data": {"name":"b_barrows"}, "mark": {"type":"rule","color":"#000","strokeWidth":1.5},
       "encoding": {"x": {"field":"H","type":"quantitative"},"y": {"field":"M","type":"quantitative"},"x2": {"field":"H2"},"y2": {"field":"M2"}}},
      {"data": {"name":"b_barrows"}, "transform": [{"filter":"datum.H2 < datum.H"}], "mark": {"type":"point","shape":"triangle","filled":true,"opacity":1,"color":"#000","size":45,"angle":216},
       "encoding": {"x": {"field":"H2","type":"quantitative"},"y": {"field":"M2","type":"quantitative"}}},
      {"data": {"name":"b_barrows"}, "transform": [{"filter":"datum.H2 > datum.H"}], "mark": {"type":"point","shape":"triangle","filled":true,"opacity":1,"color":"#000","size":45,"angle":36},
       "encoding": {"x": {"field":"H2","type":"quantitative"},"y": {"field":"M2","type":"quantitative"}}},
      {"data": {"name":"b_text"}, "transform": [{"filter": {"field":"role","equal":"it"}}], "mark": {"type":"text","align":"left","baseline":"alphabetic","fontSize":26,"fontStyle":"italic"},
       "encoding": {"x": {"field":"H","type":"quantitative"},"y": {"field":"M","type":"quantitative"},"text": {"field":"t"}}},
      {"data": {"name":"b_text"}, "transform": [{"filter": {"field":"role","equal":"rm"}}], "mark": {"type":"text","align":"left","baseline":"alphabetic","fontSize":26},
       "encoding": {"x": {"field":"H","type":"quantitative"},"y": {"field":"M","type":"quantitative"},"text": {"field":"t"}}},
      {"data": {"name":"b_text"}, "transform": [{"filter": {"field":"role","equal":"sub"}}], "mark": {"type":"text","align":"left","baseline":"alphabetic","fontSize":19,"dy":5},
       "encoding": {"x": {"field":"H","type":"quantitative"},"y": {"field":"M","type":"quantitative"},"text": {"field":"t"}}},
      {"data": {"name":"b_text"}, "transform": [{"filter": {"field":"role","equal":"sup"}}], "mark": {"type":"text","align":"left","baseline":"alphabetic","fontSize":19,"fontStyle":"italic","dy":-14},
       "encoding": {"x": {"field":"H","type":"quantitative"},"y": {"field":"M","type":"quantitative"},"text": {"field":"t"}}}
    ]},
    {"data": {"values": [{"H":0,"M":0}]}, "mark": {"type":"point","opacity":0},
     "encoding": {
       "x": {"field":"H","type":"quantitative","axis":{"orient":"top","labels":false,"title":null,"domain":false,"values":[5,10,15,20]}},
       "y": {"field":"M","type":"quantitative","axis":{"orient":"right","labels":false,"ticks":false,"domain":false,"title":"dM/dH (arb. unit)","titlePadding":12}}}}
  ],
  "resolve": {"axis": {"x":"independent","y":"independent"}}
}
]
}
